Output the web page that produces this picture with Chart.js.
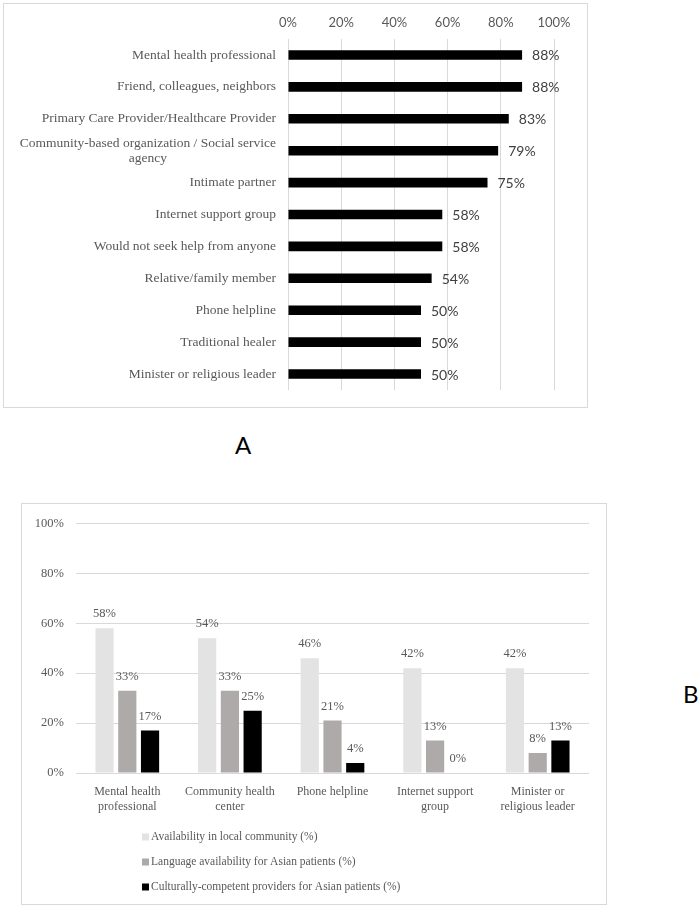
<!DOCTYPE html>
<html>
<head>
<meta charset="utf-8">
<script src="https://cdn.jsdelivr.net/npm/chart.js@4/dist/chart.umd.min.js"></script>
<style>
  html, body { margin: 0; padding: 0; background: #fff; }
  body { width: 700px; height: 908px; position: relative; overflow: hidden; }
  .box { position: absolute; border: 1px solid #d9d9d9; box-sizing: border-box; }
  #boxA { left: 3px; top: 3px; width: 585px; height: 405px; }
  #boxB { left: 21px; top: 503px; width: 586px; height: 402px; }
  canvas { position: absolute; left: 0; top: 0; }
  .panel { position: absolute; font-family: Lato, "Open Sans", sans-serif; font-size: 24px; line-height: 24px; color: #000; }
</style>
</head>
<body>
<div class="box" id="boxA"><canvas id="chartA"></canvas></div>
<div class="panel" style="left:235px; top:433px;">A</div>
<div class="box" id="boxB"><canvas id="chartB"></canvas></div>
<div class="panel" style="left:683px; top:682px;">B</div>
<script>
// Panel A: where respondents would refer / seek help
const helpSources = [
    'Mental health professional',
    'Friend, colleagues, neighbors',
    'Primary Care Provider/Healthcare Provider',
    ['Community-based organization / Social service', 'agency'],
    'Intimate partner',
    'Internet support group',
    'Would not seek help from anyone',
    'Relative/family member',
    'Phone helpline',
    'Traditional healer',
    'Minister or religious leader'
];
const helpValues = [88, 88, 83, 79, 75, 58, 58, 54, 50, 50, 50];
const pctTicks = [0, 20, 40, 60, 80, 100];

// Panel B: resource availability
const resources = [
    ['Mental health', 'professional'],
    ['Community health', 'center'],
    'Phone helpline',
    ['Internet support', 'group'],
    ['Minister or', 'religious leader']
];
const seriesNames = [
    'Availability in local community (%)',
    'Language availability for Asian patients (%)',
    'Culturally-competent providers for Asian patients (%)'
];
const availability = [58, 54, 46, 42, 42];
const language = [33, 33, 21, 13, 8];
const cultural = [17, 25, 4, 0, 13];

const SERIF = '"Liberation Serif", "Times New Roman", serif';
const SANS = 'Lato, "Open Sans", sans-serif';

function sizeCanvas(id, w, h) {
    const c = document.getElementById(id);
    c.width = w; c.height = h;
    c.style.width = w + 'px'; c.style.height = h + 'px';
    return c.getContext('2d');
}

// draws y labels of panel A (right aligned, wrapped lines centred under the first)
const yLabelsA = {
    id: 'yLabelsA',
    afterDraw(chart) {
        const ctx = chart.ctx;
        const scale = chart.scales.y;
        const right = chart.chartArea.left - 12;
        ctx.save();
        ctx.font = '13.5px ' + SERIF;
        ctx.fillStyle = '#595959';
        ctx.textBaseline = 'middle';
        helpSources.forEach((lab, i) => {
            const y = scale.getPixelForTick(i);
            if (Array.isArray(lab)) {
                const w = Math.max(...lab.map(t => ctx.measureText(t).width));
                ctx.textAlign = 'center';
                lab.forEach((t, j) => {
                    ctx.fillText(t, right - w / 2, y + (j - (lab.length - 1) / 2) * 15);
                });
            } else {
                ctx.textAlign = 'right';
                ctx.fillText(lab, right, y);
            }
        });
        ctx.restore();
    }
};

const endLabelsA = {
    id: 'endLabelsA',
    afterDatasetsDraw(chart) {
        const ctx = chart.ctx;
        const meta = chart.getDatasetMeta(0);
        ctx.save();
        ctx.font = '14px ' + SANS;
        ctx.fillStyle = '#404040';
        ctx.textAlign = 'left';
        ctx.textBaseline = 'middle';
        meta.data.forEach((bar, i) => {
            ctx.fillText(helpValues[i] + '%', bar.x + 10, bar.y + 1);
        });
        ctx.restore();
    }
};

sizeCanvas('chartA', 583, 403);
new Chart(document.getElementById('chartA'), {
    type: 'bar',
    data: {
        labels: helpSources,
        datasets: [{
            data: helpValues,
            backgroundColor: '#000000',
            borderWidth: 0,
            categoryPercentage: 1,
            barPercentage: 0.3
        }]
    },
    options: {
        indexAxis: 'y',
        responsive: false,
        animation: false,
        devicePixelRatio: 1,
        layout: { padding: { left: 0, right: 33, top: 0, bottom: 17 } },
        plugins: { legend: { display: false }, tooltip: { enabled: false } },
        scales: {
            x: {
                position: 'top',
                min: 0, max: 100,
                afterBuildTicks: s => { s.ticks = pctTicks.map(v => ({ value: v })); },
                afterFit: s => { s.height = 35; },
                grid: { color: '#d9d9d9', drawTicks: false },
                border: { display: false },
                ticks: {
                    padding: 8,
                    color: '#595959',
                    font: { family: SANS, size: 13 },
                    callback: v => v + '%'
                }
            },
            y: {
                afterFit: s => { s.width = 284; },
                grid: { display: false, drawTicks: false },
                border: { display: false },
                ticks: { display: false }
            }
        }
    },
    plugins: [yLabelsA, endLabelsA]
});

const colorsB = ['#e3e3e3', '#aeaaaa', '#000000'];

const valueLabelsB = {
    id: 'valueLabelsB',
    afterDatasetsDraw(chart) {
        const ctx = chart.ctx;
        ctx.save();
        ctx.font = '12.5px ' + SERIF;
        ctx.fillStyle = '#595959';
        ctx.textAlign = 'center';
        ctx.textBaseline = 'bottom';
        chart.data.datasets.forEach((ds, d) => {
            chart.getDatasetMeta(d).data.forEach((bar, i) => {
                ctx.fillText(ds.data[i] + '%', bar.x, bar.y - 8);
            });
        });
        ctx.restore();
    }
};

const legendB = {
    id: 'legendB',
    afterDraw(chart) {
        const ctx = chart.ctx;
        const x = 120;
        let y = chart.chartArea.bottom + 64;
        ctx.save();
        ctx.font = '11.5px ' + SERIF;
        ctx.textAlign = 'left';
        ctx.textBaseline = 'middle';
        seriesNames.forEach((name, i) => {
            ctx.fillStyle = colorsB[i];
            ctx.fillRect(x, y - 3.5, 7, 7);
            ctx.fillStyle = '#595959';
            ctx.fillText(name, x + 9, y);
            y += 25;
        });
        ctx.restore();
    }
};

sizeCanvas('chartB', 584, 400);
new Chart(document.getElementById('chartB'), {
    type: 'bar',
    data: {
        labels: resources,
        datasets: [
            { label: seriesNames[0], data: availability, backgroundColor: colorsB[0] },
            { label: seriesNames[1], data: language, backgroundColor: colorsB[1] },
            { label: seriesNames[2], data: cultural, backgroundColor: colorsB[2] }
        ]
    },
    options: {
        responsive: false,
        animation: false,
        devicePixelRatio: 1,
        datasets: { bar: { categoryPercentage: 0.665, barPercentage: 0.8, borderWidth: 0 } },
        layout: { padding: { left: 0, right: 17, top: 17, bottom: 91 } },
        plugins: { legend: { display: false }, tooltip: { enabled: false } },
        scales: {
            x: {
                afterFit: s => { s.height = 40; },
                grid: { display: false, drawTicks: false },
                border: { display: false },
                ticks: {
                    padding: 12,
                    maxRotation: 0,
                    autoSkip: false,
                    color: '#595959',
                    font: { family: SERIF, size: 12, lineHeight: 1.2 }
                }
            },
            y: {
                min: 0, max: 100,
                afterBuildTicks: s => { s.ticks = pctTicks.map(v => ({ value: v })); },
                afterFit: s => { s.width = 54; },
                grid: { color: '#d9d9d9', drawTicks: false },
                border: { display: false },
                ticks: {
                    padding: 12,
                    color: '#595959',
                    font: { family: SERIF, size: 12.5 },
                    callback: v => v + '%'
                }
            }
        }
    },
    plugins: [valueLabelsB, legendB]
});
</script>
</body>
</html>
